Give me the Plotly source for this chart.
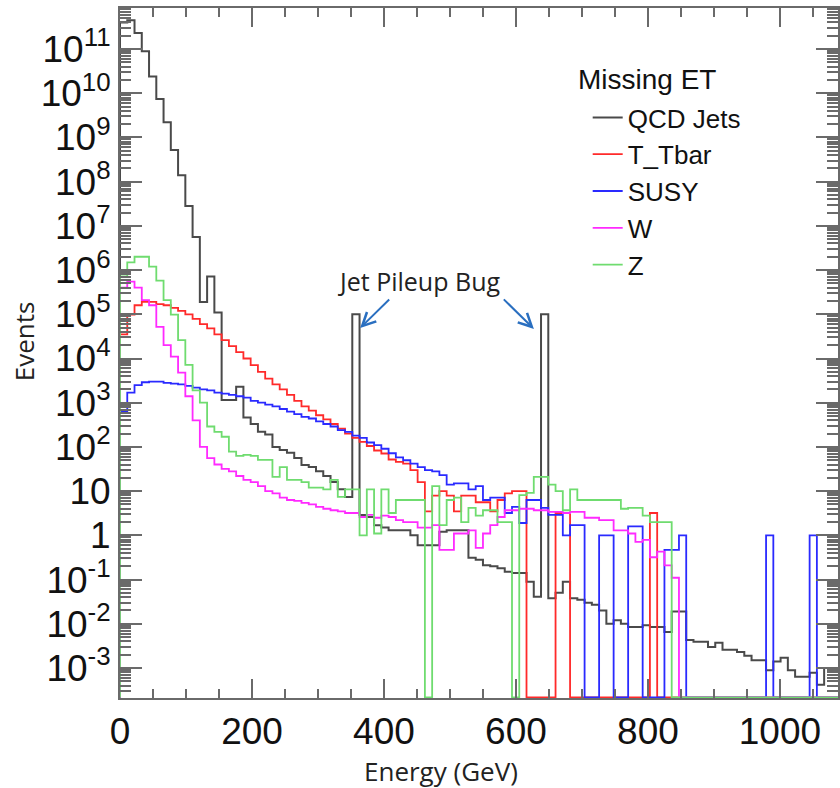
import plotly.graph_objects as go

# Missing ET histograms: 100 bins of 11 GeV from 0 to 1100 GeV (events per bin)
BIN_WIDTH = 11.0
N_BINS = 100

qcd_jets = [
    4.0e11, 4.5e11, 2.3e11, 8.9e10, 2.4e10, 7.4e9, 2.2e9, 5.2e8, 1.4e8, 2.8e7,
    5.6e6, 1.9e5, 7.2e5, 1.1e5, 1150, 1150, 2300, 460, 330, 220,
    190, 100, 85, 74, 56, 39, 35, 28, 22, 16,
    11, 7.4, 1.0e5, 2.9, 2.6, 1.7, 1.5, 1.3, 1.3, 1.3,
    1.0, 0.6, 0.6, 0.6, 1.2, 1.3, 1.3, 1.3, 0.31, 0.28,
    0.21, 0.20, 0.18, 0.15, 0.14, 0.14, 0.089, 0.041, 1.0e5, 0.038,
    0.05, 0.089, 0.038, 0.035, 0.030, 0.027, 0.020, 0.010, 0.012, 0.010,
    0.0085, 0.0085, 0.0093, 0.0085, 0.0085, 0.0065, 0.019, 0.019, 0.0043, 0.0039,
    0.0039, 0.0030, 0.0037, 0.0026, 0.0026, 0.0023, 0.0019, 0.0015, 0.0015, 0.00089,
    0.0014, 0.0017, 0.00089, 0.00063, 0.00063, 0.00078, 0.00042, 0.0010, 0.0010, 0.00089,
]

t_tbar = [
    3.5e4, 9.8e4, 1.6e5, 1.9e5, 1.9e5, 1.7e5, 1.6e5, 1.4e5, 1.2e5, 1.0e5,
    7.9e4, 6.0e4, 4.8e4, 3.5e4, 2.6e4, 1.9e4, 1.4e4, 1.0e4, 7100, 5000,
    3500, 2600, 2000, 1500, 1100, 830, 660, 520, 420, 330,
    260, 200, 160, 130, 105, 83, 71, 52, 46, 42,
    30, 16, 3.5, 7.9, 10, 7.9, 3.5, 7.9, 7.9, 5.6,
    5.6, 3.5, 6.3, 8.9, 10, 10, 0, 0, 0, 0,
    3.2, 3.2, 0, 0, 0, 0, 0, 0, 0, 0,
    0, 0, 0, 3.2, 0, 0, 0, 0, 0, 0,
    0, 0, 0, 0, 0, 0, 0, 0, 0, 0,
    0, 0, 0, 0, 0, 0, 0, 0, 0, 0,
]

susy = [
    630, 1700, 2500, 2900, 3000, 3000, 2800, 2700, 2600, 2400,
    2200, 2000, 1900, 1700, 1600, 1500, 1400, 1300, 1100, 1000,
    910, 830, 720, 630, 550, 480, 440, 380, 330, 290,
    240, 220, 180, 160, 126, 110, 91, 72, 58, 50,
    42, 35, 30, 28, 23, 14, 15, 15, 11, 13,
    6.3, 7.1, 7.1, 3.2, 4.4, 1.9, 6.3, 6.3, 4.2, 2.9,
    2.9, 1.0, 1.7, 1.7, 0, 0, 1.0, 1.0, 0, 0,
    1.6, 1.6, 0, 0, 0, 0.47, 0.47, 1.0, 0, 0,
    0, 0, 0, 0, 0, 0, 0, 0, 0, 1.0,
    0, 0, 0, 0, 0, 1.0, 0, 0, 0, 0,
]

w_boson = [
    4.0e5, 5.5e5, 4.0e5, 2.1e5, 1.6e5, 5.2e4, 2.0e4, 1.1e4, 4800, 1400,
    400, 100, 56, 40, 32, 28, 22, 18, 16, 13,
    10, 8.9, 7.1, 6.3, 6.0, 5.4, 5.0, 4.4, 4.0, 3.7,
    3.5, 3.2, 3.2, 2.6, 2.9, 2.5, 2.8, 2.6, 2.2, 2.0,
    2.0, 1.5, 1.5, 1.7, 0.47, 0.47, 1.1, 1.1, 1.3, 0.52,
    1.1, 1.7, 2.6, 3.7, 3.7, 4.0, 4.0, 3.7, 3.7, 3.4,
    3.4, 3.2, 3.4, 3.4, 2.5, 2.5, 2.2, 2.2, 1.3, 1.3,
    1.1, 0.71, 0.79, 0.32, 0.43, 0.21, 0.11, 0, 0, 0,
    0, 0, 0, 0, 0, 0, 0, 0, 0, 0,
    0, 0, 0, 0, 0, 0, 0, 0, 0, 0,
]

z_boson = [
    7.2e5, 1.5e6, 2.0e6, 2.0e6, 1.2e6, 5.8e5, 2.1e5, 9.8e4, 2.6e4, 7200,
    1900, 1000, 290, 220, 170, 78, 63, 66, 63, 51,
    51, 21, 35, 18, 18, 16, 12, 12, 11, 18,
    7.4, 11, 11, 1.0, 11, 1.1, 11, 3.2, 6.3, 6.3,
    6.3, 6.3, 0, 13, 1.7, 6.3, 7.1, 2.0, 4.2, 2.8,
    3.7, 3.7, 2.0, 2.0, 0, 8.1, 9.1, 21, 21, 14,
    10, 3.7, 11, 6.3, 6.3, 6.3, 6.3, 6.3, 6.3, 4.0,
    4.2, 4.2, 2.8, 2.0, 2.0, 2.0, 0, 0, 0, 0,
    0, 0, 0, 0, 0, 0, 0, 0, 0, 0,
    0, 0, 0, 0, 0, 0, 0, 0, 0, 0,
]

series = [
    ("QCD Jets", qcd_jets, "#4a4a4a", 2.0),
    ("T_Tbar", t_tbar, "#ff2a2a", 1.8),
    ("SUSY", susy, "#2a2aff", 1.8),
    ("W", w_boson, "#ff2aff", 1.8),
    ("Z", z_boson, "#6fdc6f", 1.8),
]

# log10 range of the Events axis; empty bins sit on the bottom frame
Y_LOG_MIN, Y_LOG_MAX = -3.679, 11.928
X_MAX = 1088.0
floor_value = 10 ** (Y_LOG_MIN + 0.012)

edges = [i * BIN_WIDTH for i in range(N_BINS + 1)]

fig = go.Figure()
for name, counts, color, width in series:
    shown = [c if c > 0 else floor_value for c in counts]
    xs = [edges[0]] + edges[:-1] + [edges[-1], edges[-1]]
    ys = [floor_value] + shown + [shown[-1], floor_value]
    fig.add_trace(go.Scatter(
        x=xs, y=ys, mode="lines", name=name,
        line=dict(color=color, width=width, shape="hv"),
        hoverinfo="skip",
    ))

decades = list(range(-3, 12))
major_vals = [10.0 ** d for d in decades]
major_text = []
for d in decades:
    if d == 0:
        major_text.append("1")
    elif d == 1:
        major_text.append("10")
    else:
        major_text.append(f"10<sup>{d}</sup>")
minor_vals = [k * 10.0 ** d for d in range(-4, 12) for k in range(2, 10)]

axis_gray = "#6a6a6a"
arial = "Liberation Sans, Arial, sans-serif"
tick_font = dict(family=arial, size=37, color="#111111")

fig.update_xaxes(
    range=[0, X_MAX],
    showline=True, linecolor=axis_gray, linewidth=2, mirror="ticks",
    ticks="inside", ticklen=19, tickwidth=2, tickcolor=axis_gray,
    tickmode="linear", tick0=0, dtick=200,
    minor=dict(ticks="inside", ticklen=9, tickwidth=2, tickcolor=axis_gray,
               tickmode="linear", tick0=0, dtick=50, showgrid=False),
    showgrid=False, zeroline=False,
    tickfont=tick_font,
)
fig.update_yaxes(
    type="log", range=[Y_LOG_MIN, Y_LOG_MAX],
    showline=True, linecolor=axis_gray, linewidth=2, mirror="ticks",
    ticks="inside", ticklen=22, tickwidth=2, tickcolor=axis_gray,
    tickmode="array", tickvals=major_vals, ticktext=major_text,
    minor=dict(ticks="inside", ticklen=11, tickwidth=1.5, tickcolor=axis_gray,
               tickmode="array", tickvals=minor_vals, showgrid=False),
    showgrid=False, zeroline=False,
    tickfont=tick_font,
)

PLOT_L, PLOT_T, PLOT_W, PLOT_H = 120, 8, 720, 690


def paper_x(px):
    return (px - PLOT_L) / PLOT_W


def paper_y(py):
    return (PLOT_T + PLOT_H - py) / PLOT_H


arrow_color = "#2a6fc0"
note_font = "Open Sans, Lato, sans-serif"
fig.update_layout(
    width=840, height=788,
    margin=dict(l=PLOT_L, r=0, t=PLOT_T, b=788 - PLOT_T - PLOT_H),
    paper_bgcolor="white", plot_bgcolor="white",
    showlegend=True,
    legend=dict(
        x=paper_x(589), y=paper_y(94), xanchor="left", yanchor="top",
        bgcolor="rgba(0,0,0,0)", borderwidth=0,
        font=dict(family=arial, size=26, color="#111111"),
        tracegroupgap=0,
    ),
    annotations=[
        dict(text="Missing ET", x=paper_x(577), y=paper_y(79), xref="paper", yref="paper",
             xanchor="left", yanchor="middle", showarrow=False,
             font=dict(family=arial, size=28, color="#111111")),
        dict(text="Jet Pileup Bug", x=453, y=5.76, xref="x", yref="y",
             xanchor="center", yanchor="middle", showarrow=False,
             font=dict(family=note_font, size=25, color="#222222")),
        dict(text="", x=363.9, y=4.69, xref="x", yref="y",
             ax=410.2, ay=5.37, axref="x", ayref="y",
             showarrow=True, arrowhead=5, arrowsize=1.3, arrowwidth=2, arrowcolor=arrow_color),
        dict(text="", x=627.2, y=4.67, xref="x", yref="y",
             ax=579.3, ay=5.37, axref="x", ayref="y",
             showarrow=True, arrowhead=5, arrowsize=1.3, arrowwidth=2, arrowcolor=arrow_color),
        dict(text="Energy (GeV)", x=paper_x(442), y=paper_y(771),
             xref="paper", yref="paper", xanchor="center", yanchor="middle",
             showarrow=False, font=dict(family=note_font, size=26, color="#222222")),
        dict(text="Events", x=paper_x(24), y=paper_y(341),
             xref="paper", yref="paper", xanchor="center", yanchor="middle",
             showarrow=False, textangle=-90,
             font=dict(family=note_font, size=26, color="#222222")),
    ],
)

fig.write_html("out.html")
